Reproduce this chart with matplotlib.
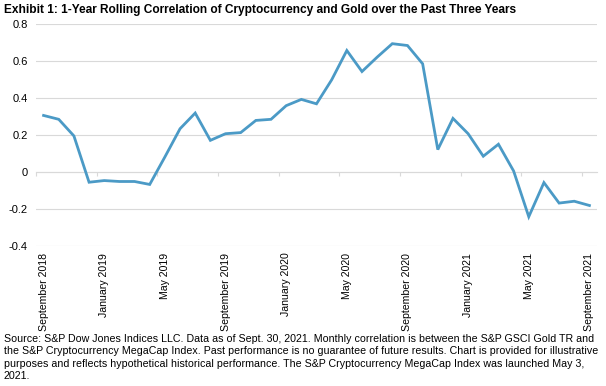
import matplotlib.pyplot as plt
import numpy as np

plt.rcParams.update({
    "font.family": ["Liberation Sans", "DejaVu Sans"],
    "font.size": 8,
})

months = ['September 2018', 'October 2018', 'November 2018', 'December 2018',
          'January 2019', 'February 2019', 'March 2019', 'April 2019',
          'May 2019', 'June 2019', 'July 2019', 'August 2019',
          'September 2019', 'October 2019', 'November 2019', 'December 2019',
          'January 2020', 'February 2020', 'March 2020', 'April 2020',
          'May 2020', 'June 2020', 'July 2020', 'August 2020',
          'September 2020', 'October 2020', 'November 2020', 'December 2020',
          'January 2021', 'February 2021', 'March 2021', 'April 2021',
          'May 2021', 'June 2021', 'July 2021', 'August 2021',
          'September 2021']
correlation = [0.306, 0.285, 0.195, -0.056, -0.047, -0.052, -0.052, -0.068,
               0.081, 0.234, 0.319, 0.171, 0.207, 0.213, 0.279, 0.285,
               0.359, 0.393, 0.369, 0.499, 0.658, 0.544, 0.622, 0.695,
               0.685, 0.586, 0.121, 0.290, 0.207, 0.085, 0.150, 0.005,
               -0.243, -0.058, -0.169, -0.159, -0.182]
yticks = [0.8, 0.6, 0.4, 0.2, 0, -0.2, -0.4]
ytick_labels = ['0.8', '0.6', '0.4', '0.2', '0', '-0.2', '-0.4']

title = 'Exhibit 1: 1-Year Rolling Correlation of Cryptocurrency and Gold over the Past Three Years'
note = ('Source: S&P Dow Jones Indices LLC. Data as of Sept. 30, 2021. Monthly correlation is between the S&P GSCI Gold TR and\n'
        'the S&P Cryptocurrency MegaCap Index. Past performance is no guarantee of future results. Chart is provided for illustrative\n'
        'purposes and reflects hypothetical historical performance. The S&P Cryptocurrency MegaCap Index was launched May 3,\n'
        '2021.')

fig = plt.figure(figsize=(6.06, 3.86), dpi=100)
ax = fig.add_axes([36/606, 1 - 245.7/386, (597 - 36)/606, (245.7 - 24.3)/386])

x = np.arange(len(months))
ax.plot(x, correlation, color='#4b9ac6', linewidth=2.0, solid_joinstyle='miter')

ax.set_xlim(-0.5, len(months) - 0.5)
ax.set_ylim(-0.4, 0.8)
ax.set_yticks(yticks)
ax.set_yticklabels(ytick_labels)
ax.grid(axis='y', color='#d9d9d9', linewidth=0.8)
ax.set_axisbelow(True)
ax.tick_params(axis='y', length=0, pad=6, labelsize=8)

# category labels at the bottom, every 4 months
ax.set_xticks(x[::4])
ax.set_xticklabels([months[i] for i in x[::4]], rotation=90)
ax.tick_params(axis='x', length=0, pad=5, labelsize=7.6)

for s in ax.spines.values():
    s.set_visible(False)

# tick marks on the zero line between categories
sec = ax.secondary_xaxis(0.4 / 1.2)
sec.set_xticks(np.arange(-0.5, len(months), 4))
sec.set_xticklabels([])
sec.tick_params(axis='x', length=3, color='#d9d9d9', width=0.8)
sec.spines['bottom'].set_color('#d9d9d9')
sec.spines['bottom'].set_linewidth(0.8)

fig.text(4/606, 1 - 10/386, title, fontsize=8.6, fontweight='bold',
         va='center', ha='left')
fig.text(4/606, 1 - 334/386, note, fontsize=7.65, va='top', ha='left',
         linespacing=1.3)

fig.savefig('out.png', dpi=100)
